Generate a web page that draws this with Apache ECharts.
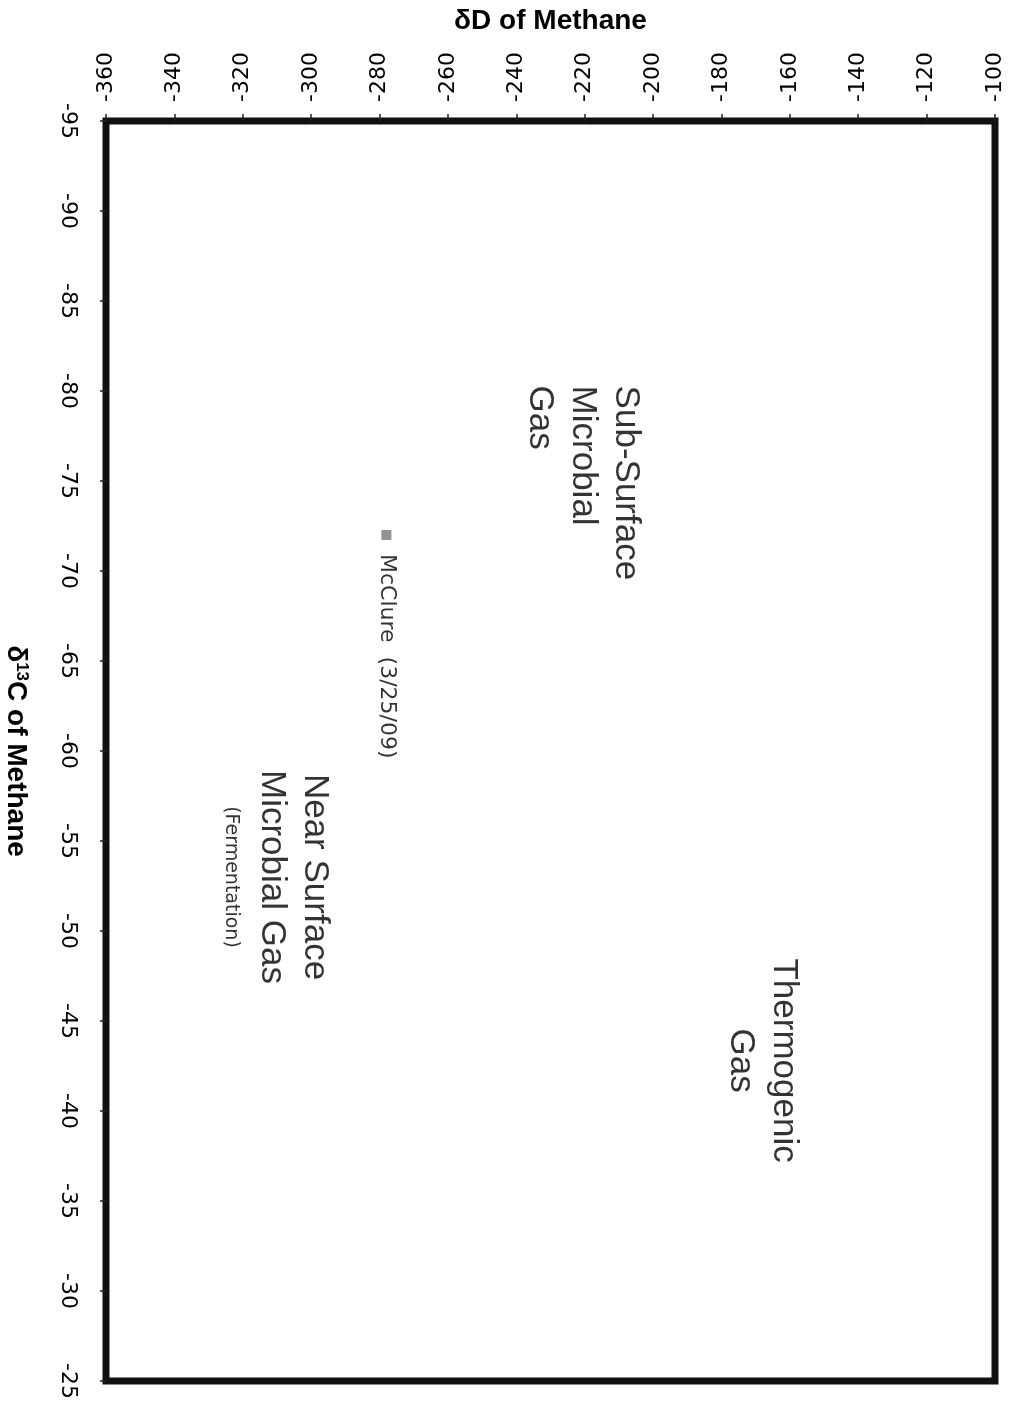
<!DOCTYPE html>
<html>
<head>
<meta charset="utf-8">
<script src="https://cdn.jsdelivr.net/npm/echarts@6/dist/echarts.min.js"></script>
<style>
  html, body { margin: 0; padding: 0; background: #fff; }
  #chart { width: 1020px; height: 1407px; }
</style>
</head>
<body>
<div id="chart"></div>
<script>
// sample measured
const sampleNames = ['McClure  (3/25/09)']
const sampleD = [-278]
const sampleC = [-72]

// gas origin zones (text labels only)
const zoneNames = ['Sub-Surface\nMicrobial\nGas', 'Near Surface\nMicrobial Gas\n(Fermentation)', 'Thermogenic\nGas']
const zoneD = [-220.5, -311, -168]
const zoneC = [-80.3, -53, -42.8]

const xTicks = { min: -360, max: -100, step: 20 }
const yTicks = { min: -95, max: -25, step: 5 }

const chart = echarts.init(document.getElementById('chart'))

const zoneLabel = [
  { align: 'left', formatter: '{b}' },
  { align: 'center', formatter: '{big|Near Surface}\n{big|Microbial Gas}\n{small|(Fermentation)}' },
  { align: 'center', formatter: '{b}' }
]

chart.setOption({
  animation: false,
  grid: {
    left: 106,
    top: 121,
    right: 25,
    bottom: 26,
    outerBoundsMode: 'none',
    containLabel: false,
    show: true,
    borderColor: '#111',
    borderWidth: 7,
    backgroundColor: '#fff'
  },
  xAxis: {
    type: 'value',
    position: 'top',
    min: xTicks.min,
    max: xTicks.max,
    interval: xTicks.step,
    name: 'δD of Methane',
    nameLocation: 'middle',
    nameGap: 86,
    nameMoveOverlap: false,
    nameTextStyle: {
      fontFamily: 'Liberation Sans',
      fontWeight: 'bold',
      fontSize: 28,
      color: '#000'
    },
    axisLine: { show: false },
    axisTick: { show: true, length: 7, lineStyle: { color: '#222', width: 1.5 } },
    splitLine: { show: false },
    axisLabel: {
      rotate: -90,
      margin: 19,
      fontFamily: 'DejaVu Sans',
      fontSize: 22,
      color: '#000'
    }
  },
  yAxis: {
    type: 'value',
    inverse: true,
    min: yTicks.min,
    max: yTicks.max,
    interval: yTicks.step,
    name: '{a|δ}{s|13}{a|C of Methane}',
    nameLocation: 'middle',
    nameRotate: -90,
    nameGap: 76,
    nameMoveOverlap: false,
    nameTextStyle: {
      rich: {
        a: { fontFamily: 'Liberation Sans', fontWeight: 'bold', fontSize: 28, color: '#000' },
        s: { fontFamily: 'Liberation Sans', fontWeight: 'bold', fontSize: 17, color: '#000', verticalAlign: 'top', padding: [0, 0, 12, 0] }
      }
    },
    axisLine: { show: false },
    axisTick: { show: true, length: 6, lineStyle: { color: '#222', width: 1.5 } },
    splitLine: { show: false },
    axisLabel: {
      rotate: -90,
      margin: 27,
      fontFamily: 'DejaVu Sans',
      fontSize: 22,
      color: '#000'
    }
  },
  series: [
    {
      type: 'scatter',
      name: 'samples',
      symbol: 'rect',
      symbolSize: 10,
      itemStyle: { color: '#777' },
      data: sampleD.map((d, i) => ({ name: sampleNames[i], value: [d, sampleC[i]] })),
      label: {
        show: true,
        formatter: '{b}',
        position: 'bottom',
        distance: 14,
        rotate: -90,
        align: 'left',
        verticalAlign: 'middle',
        fontFamily: 'DejaVu Sans',
        fontSize: 22,
        color: '#000'
      }
    },
    {
      type: 'scatter',
      name: 'zones',
      symbolSize: 0,
      silent: true,
      data: zoneD.map((d, i) => ({
        name: zoneNames[i],
        value: [d, zoneC[i]],
        label: zoneLabel[i]
      })),
      label: {
        show: true,
        position: 'inside',
        rotate: -90,
        verticalAlign: 'middle',
        fontFamily: 'Liberation Sans',
        fontSize: 35,
        lineHeight: 43,
        color: '#000',
        rich: {
          big: { fontFamily: 'Liberation Sans', fontSize: 35, lineHeight: 43, color: '#000' },
          small: { fontFamily: 'DejaVu Sans', fontSize: 19, lineHeight: 40, color: '#000' }
        }
      }
    }
  ]
})
</script>
</body>
</html>
